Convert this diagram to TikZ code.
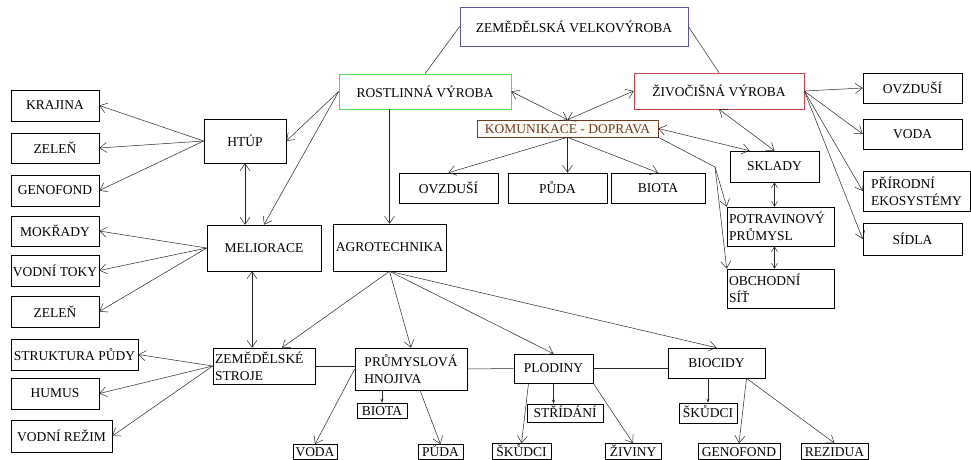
\documentclass[tikz,border=0pt]{standalone}
\usepackage{fontspec}
\setmainfont{Liberation Serif}
\usetikzlibrary{arrows.meta,calc,positioning}
\definecolor{zvblue}{RGB}{88,88,150}
\definecolor{rvgreen}{RGB}{80,220,80}
\definecolor{zvred}{RGB}{200,70,70}
\definecolor{kombrown}{RGB}{110,60,35}
\definecolor{komfill}{RGB}{254,250,245}

\begin{document}
\begin{tikzpicture}[x=1pt,y=-1pt,
  box/.style={draw,line width=0.6pt,inner sep=1pt,align=center,
    font=\fontsize{13.5}{17}\selectfont},
  lbox/.style={box,align=left},
  sbox/.style={box,text height=9.5pt,text depth=0.5pt},
  >={Straight Barb[length=7pt,width=10pt]},
  con/.style={line width=0.5pt,black!85},
  sm/.style={con,-{Stealth[length=4pt,width=3pt]}},
  md/.style={con,{Straight Barb[length=5pt,width=6pt]}-{Straight Barb[length=5pt,width=6pt]}}]
  \fill[white](0,0)rectangle(971,460);
  \useasboundingbox(0,0)rectangle(971,460);

  \node[box,draw=zvblue,minimum width=228,minimum height=39](zv)at(574,26.5){ZEMĚDĚLSKÁ VELKOVÝROBA};
  \node[box,draw=rvgreen,minimum width=172,minimum height=35](rv)at(425,91.5){ROSTLINNÁ VÝROBA};
  \node[box,draw=zvred,minimum width=170,minimum height=36](zivv)at(719,91){ŽIVOČIŠNÁ VÝROBA};
  \node[sbox,draw=kombrown,fill=komfill,text=kombrown,minimum width=181,minimum height=17](kom)at(567.5,128.5){KOMUNIKACE - DOPRAVA};
  \node[box,minimum width=99,minimum height=30](ovz1)at(448.5,188){OVZDUŠÍ};
  \node[box,minimum width=99,minimum height=30](puda1)at(557.5,188){PŮDA};
  \node[box,minimum width=94,minimum height=30](biota1)at(658,188){BIOTA};
  \node[box,minimum width=89,minimum height=31](sklady)at(774.5,166.5){SKLADY};
  \node[lbox,minimum width=107,minimum height=39,text width=103](potrav)at(780.5,226.5){POTRAVINOVÝ\\PRŮMYSL};
  \node[lbox,minimum width=107,minimum height=39,text width=103](obch)at(780.5,288.5){OBCHODNÍ\\SÍŤ};
  \node[box,minimum width=99,minimum height=30](ovz2)at(912.5,88){OVZDUŠÍ};
  \node[box,minimum width=99,minimum height=30](voda2)at(912.5,134){VODA};
  \node[lbox,minimum width=107,minimum height=40](prir)at(916.5,191){PŘÍRODNÍ\\EKOSYSTÉMY};
  \node[box,minimum width=99,minimum height=32](sidla)at(912.5,239){SÍDLA};

  \node[box,minimum width=88,minimum height=31](krajina)at(55,105.5){KRAJINA};
  \node[box,minimum width=88,minimum height=30](zelen1)at(55,148){ZELEŇ};
  \node[box,minimum width=88,minimum height=31](genof1)at(55,190.5){GENOFOND};
  \node[box,minimum width=88,minimum height=30](mokr)at(55,231){MOKŘADY};
  \node[box,minimum width=88,minimum height=31](vtoky)at(55,270.5){VODNÍ TOKY};
  \node[box,minimum width=88,minimum height=31](zelen2)at(55,311.5){ZELEŇ};
  \node[box,minimum width=82,minimum height=44](htup)at(245,141){HTÚP};
  \node[box,minimum width=114,minimum height=46](melior)at(264,248){MELIORACE};
  \node[box,minimum width=113,minimum height=47](agro)at(389.5,247.5){AGROTECHNIKA};

  \node[box,minimum width=127,minimum height=31](strukt)at(74.5,354.5){STRUKTURA PŮDY};
  \node[box,minimum width=88,minimum height=31](humus)at(55,393.5){HUMUS};
  \node[box,minimum width=101,minimum height=32](vrezim)at(61.5,436){VODNÍ REŽIM};
  \node[lbox,minimum width=102,minimum height=36,text width=98](stroje)at(264,366){ZEMĚDĚLSKÉ\\STROJE};
  \node[lbox,minimum width=112,minimum height=42](hnoj)at(411,369){PRŮMYSLOVÁ\\HNOJIVA};
  \node[sbox,minimum width=50,minimum height=15](biota2)at(382,410.5){BIOTA};
  \node[sbox,minimum width=44,minimum height=15](voda3)at(315,452){VODA};
  \node[sbox,minimum width=45,minimum height=15](puda3)at(440.5,452){PŮDA};
  \node[box,minimum width=79,minimum height=29](plod)at(553.5,368.5){PLODINY};
  \node[box,minimum width=97,minimum height=30](biocid)at(716.5,363){BIOCIDY};
  \node[sbox,minimum width=76,minimum height=18](strid)at(565,413){STŘÍDÁNÍ};
  \node[sbox,minimum width=59,minimum height=16](skud1)at(521.5,451.5){ŠKŮDCI};
  \node[sbox,minimum width=56,minimum height=16](ziv)at(633,451.5){ŽIVINY};
  \node[sbox,minimum width=58,minimum height=20](skud2)at(708,413){ŠKŮDCI};
  \node[sbox,minimum width=82,minimum height=16](genof2)at(739,451.5){GENOFOND};
  \node[sbox,minimum width=67,minimum height=16](rezid)at(834.5,451.5){REZIDUA};

  \coordinate(kb)at(715,167);

  \draw[con](zv.west)--(rv.north);
  \draw[con](zv.east)--(zivv.north);
  \draw[con,<->](rv.east)--(kom.north);
  \draw[con,<->](zivv.west)--(kom.north);
  \draw[con,->](kom.south)--(ovz1.north);
  \draw[con,->](kom.south)--(kom.south|-puda1.north);
  \draw[con,->](kom.south)--(biota1.north);
  \draw[con,<->](kom.east)--([xshift=-25pt]sklady.north);
  \draw[con,<->](zivv.south)--(sklady.north);
  \draw[con,->](kom.south east)--(kb)--(potrav.north west);
  \draw[con,->](kb)--(obch.north west);
  \draw[md](sklady.south)--(sklady.south|-potrav.north);
  \draw[md](sklady.south|-potrav.south)--(sklady.south|-obch.north);
  \foreach \t in {ovz2,voda2,prir,sidla}
    \draw[con,->](zivv.east)--(\t.west);

  \foreach \t in {krajina,zelen1,genof1}
    \draw[con,->](htup.west)--(\t.east);
  \draw[con,->](rv.west)--(htup.east);
  \draw[con,->](rv.west)--(melior.north);
  \draw[con,<->](htup.south)--(htup.south|-melior.north);
  \foreach \t in {mokr,vtoky,zelen2}
    \draw[con,->](melior.west)--(\t.east);
  \draw[con,<->]([xshift=-12pt]melior.south)--([xshift=-12pt]stroje.north);
  \draw[con,->](agro.north|-rv.south)--(agro.north);
  \draw[con,->](agro.south)--([xshift=18pt]stroje.north);
  \foreach \t in {hnoj,plod,biocid}
    \draw[con,->](agro.south)--(\t.north);

  \foreach \t in {strukt,humus,vrezim}
    \draw[con,->](stroje.west)--(\t.east);
  \draw[con](stroje.east)--(stroje.east-|hnoj.west);
  \draw[con](hnoj.east)--(plod.west);
  \draw[con](plod.east)--(plod.east-|biocid.west);
  \draw[con,->](hnoj.west)--(voda3.north);
  \draw[sm](biota2.north|-hnoj.south)--(biota2.north);
  \draw[con,->]([xshift=9pt]hnoj.south)--(puda3.north);
  \draw[con,->]([xshift=-25pt]plod.south)--(skud1.north);
  \draw[sm](plod.south)--(plod.south|-strid.north);
  \draw[con,->](plod.south east)--(ziv.north);
  \draw[sm](skud2.north|-biocid.south)--(skud2.north);
  \draw[con,->]([xshift=30pt]biocid.south)--(genof2.north);
  \draw[con,->]([xshift=30pt]biocid.south)--(rezid.north);
\end{tikzpicture}
\end{document}
